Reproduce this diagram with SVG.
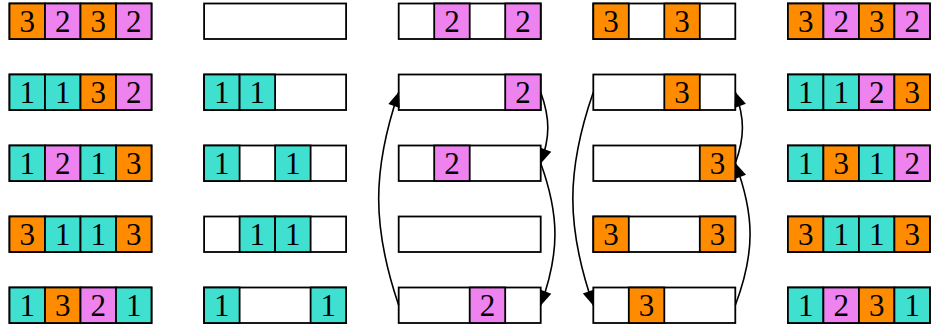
<svg xmlns="http://www.w3.org/2000/svg" width="931" height="329" viewBox="0 0 931 329">
<style>
.b{fill:#fff;stroke:#000;stroke-width:1.8}
.c{stroke:#000;stroke-width:1.8}
.o{fill:#FF8C00}
.p{fill:#EE82EE}
.t{fill:#40E0D0}
.d{font-family:"Liberation Serif","DejaVu Serif",serif;font-size:31px;text-anchor:middle;fill:#000}
.e{fill:none;stroke:#000;stroke-width:1.6}
</style>
<defs>
<marker id="ah" markerUnits="userSpaceOnUse" viewBox="0 0 15 12" markerWidth="15" markerHeight="12" refX="14.5" refY="6" orient="auto" overflow="visible">
<path d="M0,0 L15,6 L0,12 Z" fill="#000"/>
</marker>
<rect id="box" class="b" x="0" y="0" width="142" height="35.5"/>
</defs>
<!-- column 1 -->
<g id="c1r1" transform="translate(9.5,3.5)"><use href="#box"/>
<rect class="c o" x="0" y="0" width="35.5" height="35.5"/><text class="d" x="17.75" y="28.5">3</text>
<rect class="c p" x="35.5" y="0" width="35.5" height="35.5"/><text class="d" x="53.25" y="28.5">2</text>
<rect class="c o" x="71" y="0" width="35.5" height="35.5"/><text class="d" x="88.75" y="28.5">3</text>
<rect class="c p" x="106.5" y="0" width="35.5" height="35.5"/><text class="d" x="124.25" y="28.5">2</text>
</g>
<g id="c1r2" transform="translate(9.5,74.5)"><use href="#box"/>
<rect class="c t" x="0" y="0" width="35.5" height="35.5"/><text class="d" x="17.75" y="28.5">1</text>
<rect class="c t" x="35.5" y="0" width="35.5" height="35.5"/><text class="d" x="53.25" y="28.5">1</text>
<rect class="c o" x="71" y="0" width="35.5" height="35.5"/><text class="d" x="88.75" y="28.5">3</text>
<rect class="c p" x="106.5" y="0" width="35.5" height="35.5"/><text class="d" x="124.25" y="28.5">2</text>
</g>
<g id="c1r3" transform="translate(9.5,145.5)"><use href="#box"/>
<rect class="c t" x="0" y="0" width="35.5" height="35.5"/><text class="d" x="17.75" y="28.5">1</text>
<rect class="c p" x="35.5" y="0" width="35.5" height="35.5"/><text class="d" x="53.25" y="28.5">2</text>
<rect class="c t" x="71" y="0" width="35.5" height="35.5"/><text class="d" x="88.75" y="28.5">1</text>
<rect class="c o" x="106.5" y="0" width="35.5" height="35.5"/><text class="d" x="124.25" y="28.5">3</text>
</g>
<g id="c1r4" transform="translate(9.5,216.5)"><use href="#box"/>
<rect class="c o" x="0" y="0" width="35.5" height="35.5"/><text class="d" x="17.75" y="28.5">3</text>
<rect class="c t" x="35.5" y="0" width="35.5" height="35.5"/><text class="d" x="53.25" y="28.5">1</text>
<rect class="c t" x="71" y="0" width="35.5" height="35.5"/><text class="d" x="88.75" y="28.5">1</text>
<rect class="c o" x="106.5" y="0" width="35.5" height="35.5"/><text class="d" x="124.25" y="28.5">3</text>
</g>
<g id="c1r5" transform="translate(9.5,287.5)"><use href="#box"/>
<rect class="c t" x="0" y="0" width="35.5" height="35.5"/><text class="d" x="17.75" y="28.5">1</text>
<rect class="c o" x="35.5" y="0" width="35.5" height="35.5"/><text class="d" x="53.25" y="28.5">3</text>
<rect class="c p" x="71" y="0" width="35.5" height="35.5"/><text class="d" x="88.75" y="28.5">2</text>
<rect class="c t" x="106.5" y="0" width="35.5" height="35.5"/><text class="d" x="124.25" y="28.5">1</text>
</g>
<!-- column 2 -->
<g id="c2r1" transform="translate(204.1,3.5)"><use href="#box"/></g>
<g id="c2r2" transform="translate(204.1,74.5)"><use href="#box"/>
<rect class="c t" x="0" y="0" width="35.5" height="35.5"/><text class="d" x="17.75" y="28.5">1</text>
<rect class="c t" x="35.5" y="0" width="35.5" height="35.5"/><text class="d" x="53.25" y="28.5">1</text>
</g>
<g id="c2r3" transform="translate(204.1,145.5)"><use href="#box"/>
<rect class="c t" x="0" y="0" width="35.5" height="35.5"/><text class="d" x="17.75" y="28.5">1</text>
<rect class="c t" x="71" y="0" width="35.5" height="35.5"/><text class="d" x="88.75" y="28.5">1</text>
</g>
<g id="c2r4" transform="translate(204.1,216.5)"><use href="#box"/>
<rect class="c t" x="35.5" y="0" width="35.5" height="35.5"/><text class="d" x="53.25" y="28.5">1</text>
<rect class="c t" x="71" y="0" width="35.5" height="35.5"/><text class="d" x="88.75" y="28.5">1</text>
</g>
<g id="c2r5" transform="translate(204.1,287.5)"><use href="#box"/>
<rect class="c t" x="0" y="0" width="35.5" height="35.5"/><text class="d" x="17.75" y="28.5">1</text>
<rect class="c t" x="106.5" y="0" width="35.5" height="35.5"/><text class="d" x="124.25" y="28.5">1</text>
</g>
<!-- column 3 -->
<g id="c3r1" transform="translate(398.7,3.5)"><use href="#box"/>
<rect class="c p" x="35.5" y="0" width="35.5" height="35.5"/><text class="d" x="53.25" y="28.5">2</text>
<rect class="c p" x="106.5" y="0" width="35.5" height="35.5"/><text class="d" x="124.25" y="28.5">2</text>
</g>
<g id="c3r2" transform="translate(398.7,74.5)"><use href="#box"/>
<rect class="c p" x="106.5" y="0" width="35.5" height="35.5"/><text class="d" x="124.25" y="28.5">2</text>
</g>
<g id="c3r3" transform="translate(398.7,145.5)"><use href="#box"/>
<rect class="c p" x="35.5" y="0" width="35.5" height="35.5"/><text class="d" x="53.25" y="28.5">2</text>
</g>
<g id="c3r4" transform="translate(398.7,216.5)"><use href="#box"/></g>
<g id="c3r5" transform="translate(398.7,287.5)"><use href="#box"/>
<rect class="c p" x="71" y="0" width="35.5" height="35.5"/><text class="d" x="88.75" y="28.5">2</text>
</g>
<!-- column 4 -->
<g id="c4r1" transform="translate(593.3,3.5)"><use href="#box"/>
<rect class="c o" x="0" y="0" width="35.5" height="35.5"/><text class="d" x="17.75" y="28.5">3</text>
<rect class="c o" x="71" y="0" width="35.5" height="35.5"/><text class="d" x="88.75" y="28.5">3</text>
</g>
<g id="c4r2" transform="translate(593.3,74.5)"><use href="#box"/>
<rect class="c o" x="71" y="0" width="35.5" height="35.5"/><text class="d" x="88.75" y="28.5">3</text>
</g>
<g id="c4r3" transform="translate(593.3,145.5)"><use href="#box"/>
<rect class="c o" x="106.5" y="0" width="35.5" height="35.5"/><text class="d" x="124.25" y="28.5">3</text>
</g>
<g id="c4r4" transform="translate(593.3,216.5)"><use href="#box"/>
<rect class="c o" x="0" y="0" width="35.5" height="35.5"/><text class="d" x="17.75" y="28.5">3</text>
<rect class="c o" x="106.5" y="0" width="35.5" height="35.5"/><text class="d" x="124.25" y="28.5">3</text>
</g>
<g id="c4r5" transform="translate(593.3,287.5)"><use href="#box"/>
<rect class="c o" x="35.5" y="0" width="35.5" height="35.5"/><text class="d" x="53.25" y="28.5">3</text>
</g>
<!-- column 5 -->
<g id="c5r1" transform="translate(787.9,3.5)"><use href="#box"/>
<rect class="c o" x="0" y="0" width="35.5" height="35.5"/><text class="d" x="17.75" y="28.5">3</text>
<rect class="c p" x="35.5" y="0" width="35.5" height="35.5"/><text class="d" x="53.25" y="28.5">2</text>
<rect class="c o" x="71" y="0" width="35.5" height="35.5"/><text class="d" x="88.75" y="28.5">3</text>
<rect class="c p" x="106.5" y="0" width="35.5" height="35.5"/><text class="d" x="124.25" y="28.5">2</text>
</g>
<g id="c5r2" transform="translate(787.9,74.5)"><use href="#box"/>
<rect class="c t" x="0" y="0" width="35.5" height="35.5"/><text class="d" x="17.75" y="28.5">1</text>
<rect class="c t" x="35.5" y="0" width="35.5" height="35.5"/><text class="d" x="53.25" y="28.5">1</text>
<rect class="c p" x="71" y="0" width="35.5" height="35.5"/><text class="d" x="88.75" y="28.5">2</text>
<rect class="c o" x="106.5" y="0" width="35.5" height="35.5"/><text class="d" x="124.25" y="28.5">3</text>
</g>
<g id="c5r3" transform="translate(787.9,145.5)"><use href="#box"/>
<rect class="c t" x="0" y="0" width="35.5" height="35.5"/><text class="d" x="17.75" y="28.5">1</text>
<rect class="c o" x="35.5" y="0" width="35.5" height="35.5"/><text class="d" x="53.25" y="28.5">3</text>
<rect class="c t" x="71" y="0" width="35.5" height="35.5"/><text class="d" x="88.75" y="28.5">1</text>
<rect class="c p" x="106.5" y="0" width="35.5" height="35.5"/><text class="d" x="124.25" y="28.5">2</text>
</g>
<g id="c5r4" transform="translate(787.9,216.5)"><use href="#box"/>
<rect class="c o" x="0" y="0" width="35.5" height="35.5"/><text class="d" x="17.75" y="28.5">3</text>
<rect class="c t" x="35.5" y="0" width="35.5" height="35.5"/><text class="d" x="53.25" y="28.5">1</text>
<rect class="c t" x="71" y="0" width="35.5" height="35.5"/><text class="d" x="88.75" y="28.5">1</text>
<rect class="c o" x="106.5" y="0" width="35.5" height="35.5"/><text class="d" x="124.25" y="28.5">3</text>
</g>
<g id="c5r5" transform="translate(787.9,287.5)"><use href="#box"/>
<rect class="c t" x="0" y="0" width="35.5" height="35.5"/><text class="d" x="17.75" y="28.5">1</text>
<rect class="c p" x="35.5" y="0" width="35.5" height="35.5"/><text class="d" x="53.25" y="28.5">2</text>
<rect class="c o" x="71" y="0" width="35.5" height="35.5"/><text class="d" x="88.75" y="28.5">3</text>
<rect class="c t" x="106.5" y="0" width="35.5" height="35.5"/><text class="d" x="124.25" y="28.5">1</text>
</g>
<!-- connectors -->
<g id="connectors">
<path class="e" marker-end="url(#ah)" d="M398.7,305.25 C372,226.85 372,170.65 398.7,92.25"/>
<path class="e" marker-end="url(#ah)" d="M540.7,92.25 C550.2,118.35 550.2,137.15 540.7,163.25"/>
<path class="e" marker-end="url(#ah)" d="M540.7,163.25 C559.7,215.45 559.7,253.05 540.7,305.25"/>
<path class="e" marker-end="url(#ah)" d="M593.3,92.25 C566,170.65 566,226.85 593.3,305.25"/>
<path class="e" marker-end="url(#ah)" d="M735.3,305.25 C755,253.05 755,215.45 735.3,163.25"/>
<path class="e" marker-end="url(#ah)" d="M735.3,163.25 C744.8,137.15 744.8,118.35 735.3,92.25"/>
</g>
</svg>
